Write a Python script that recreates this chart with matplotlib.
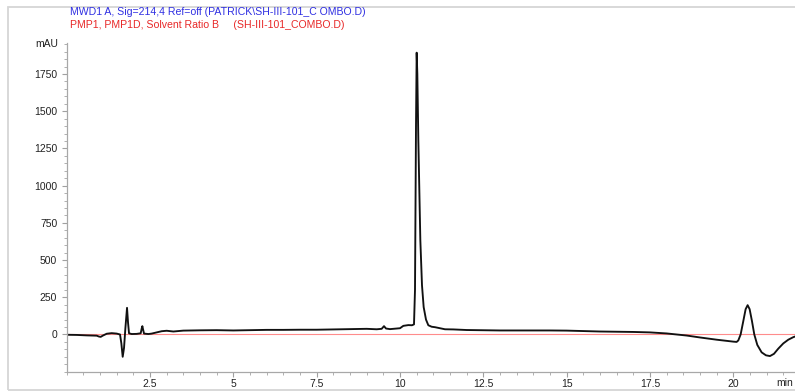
import matplotlib
matplotlib.use("Agg")
import matplotlib.pyplot as plt
from matplotlib.patches import Rectangle
from matplotlib.ticker import MultipleLocator, FixedLocator

plt.rcParams['font.family'] = ['Liberation Sans', 'DejaVu Sans']

# DAD signal (MWD1 A, 214 nm)
time_min = [0.00, 0.30, 0.60, 0.90, 0.97, 1.02, 1.08, 1.20, 1.35, 1.50,
            1.60, 1.64, 1.68, 1.72, 1.76, 1.81, 1.84, 1.87, 1.95, 2.10,
            2.22, 2.25, 2.27, 2.29, 2.32, 2.45, 2.55, 2.70, 2.85, 3.00,
            3.20, 3.50, 4.00, 4.50, 5.00, 5.50, 6.00, 6.50, 7.00, 7.50,
            8.00, 8.50, 9.00, 9.30, 9.45, 9.52, 9.58, 9.70, 10.00, 10.10,
            10.25, 10.36, 10.42, 10.45, 10.48, 10.50, 10.52, 10.55, 10.61, 10.66,
            10.71, 10.78, 10.85, 10.95, 11.05, 11.35, 11.60, 12.00, 13.00, 14.50,
            15.00, 16.00, 17.00, 17.50, 18.00, 18.60, 19.00, 19.50, 20.00, 20.10,
            20.15, 20.22, 20.30, 20.37, 20.43, 20.49, 20.56, 20.63, 20.72, 20.85,
            20.98, 21.10, 21.22, 21.35, 21.50, 21.65, 21.80, 21.90]
signal_mau = [-2, -3, -6, -8, -14, -16, -8, 5, 9, 6,
              0, -60, -150, -90, 40, 179, 80, 8, 3, 4,
              8, 40, 56, 35, 6, 3, 6, 14, 22, 25,
              20, 26, 28, 29, 27, 29, 31, 31, 32, 32,
              34, 36, 38, 35, 38, 56, 40, 36, 42, 58,
              63, 62, 68, 300, 1400, 1893, 1750, 1306, 634, 330,
              184, 100, 62, 52, 49, 35, 34, 30, 27, 27,
              26, 20, 17, 14, 7, -7, -20, -35, -48, -50,
              -40, 0, 90, 170, 197, 170, 90, 0, -70, -120,
              -140, -145, -130, -95, -60, -35, -18, -10]

# pump solvent ratio B trace (flat at zero on this scale)
solvent_time = [0.0, 22.0]
solvent_b = [0, 0]

x_ticks = [2.5, 5, 7.5, 10, 12.5, 15, 17.5, 20]
x_labels = ["2.5", "5", "7.5", "10", "12.5", "15", "17.5", "20"]
y_ticks = [0, 250, 500, 750, 1000, 1250, 1500, 1750]

title_blue = "MWD1 A, Sig=214,4 Ref=off (PATRICK\\SH-III-101_C OMBO.D)"
title_red = "PMP1, PMP1D, Solvent Ratio B     (SH-III-101_COMBO.D)"

W, H = 795, 392
fig = plt.figure(figsize=(W / 100, H / 100), dpi=100)

# light frame round the plot
fig.patches.append(Rectangle((8 / W, 1 - 390 / H), 1.0, (390 - 7) / H,
                             transform=fig.transFigure, fill=False,
                             edgecolor='#d6d6d6', lw=1.3))

ax = fig.add_axes([66.7 / W, 1 - 371.7 / H, 1 - 66.7 / W, (371.7 - 43) / H])
ax.plot(solvent_time, solvent_b, color='#ff8c8c', lw=0.8, zorder=1)
ax.plot(time_min, signal_mau, color='#111111', lw=1.35, zorder=2)

ax.set_xlim(0, (W - 66.7) / 33.33)
ax.set_ylim(-250, 1958)

for s in ['top', 'right']:
    ax.spines[s].set_visible(False)
for s in ['left', 'bottom']:
    ax.spines[s].set_color('#a8a8a8')
    ax.spines[s].set_linewidth(0.9)

ax.xaxis.set_major_locator(FixedLocator(x_ticks))
ax.set_xticklabels(x_labels)
ax.xaxis.set_minor_locator(MultipleLocator(0.5))
ax.yaxis.set_major_locator(FixedLocator(y_ticks))
ax.yaxis.set_minor_locator(MultipleLocator(50))

ax.tick_params(which='major', length=3.8, width=0.8, color='#a0a0a0',
               labelsize=7.5, labelcolor='#222222', direction='out')
ax.tick_params(which='minor', length=2.2, width=0.7, color='#b0b0b0', direction='out')
ax.tick_params(axis='x', which='major', pad=1.5)
ax.tick_params(axis='y', which='major', pad=3)

fig.text(58 / W, 1 - 44 / H, "mAU", ha='right', va='center', fontsize=7.5, color='#222222')
# unit label at the right end of the time axis, kept just inside the edge
fig.text(793 / W, 1 - 383 / H, "min", ha='right', va='center', fontsize=7.5, color='#222222')

fig.text(70 / W, 1 - 12 / H, title_blue, ha='left', va='center', fontsize=7.6, color='#2f2fe2')
fig.text(70 / W, 1 - 24.5 / H, title_red, ha='left', va='center', fontsize=7.6, color='#e82828')

fig.savefig("out.png", dpi=100)
